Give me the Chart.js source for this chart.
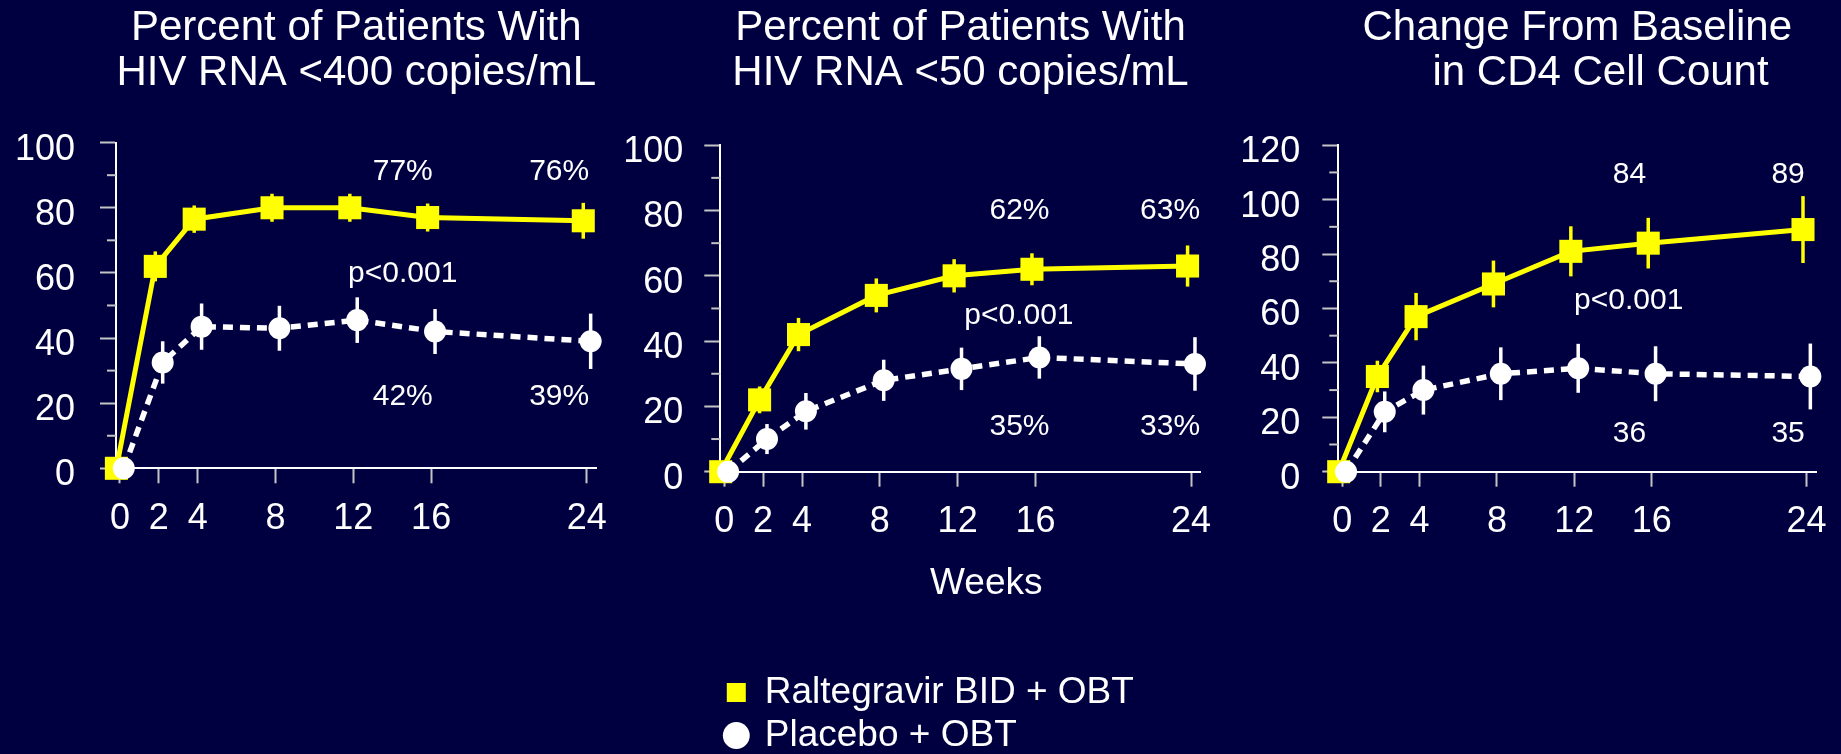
<!DOCTYPE html>
<html>
<head>
<meta charset="utf-8">
<script src="https://cdn.jsdelivr.net/npm/chart.js@4.4.1/dist/chart.umd.min.js"></script>
<style>
  html, body { margin: 0; padding: 0; width: 1841px; height: 754px; overflow: hidden; background: #000040; }
  canvas { position: absolute; top: 0; }
</style>
</head>
<body>
<canvas id="rna400" width="627" height="548" style="left:0px"></canvas>
<canvas id="rna50" width="625" height="764" style="left:606px"></canvas>
<canvas id="cd4" width="616" height="552" style="left:1225px"></canvas>
<script>
// Study visits (weeks) and their axis labels
const weeks = [0, 2, 4, 8, 12, 16, 24];
const weekLabels = ['0', '2', '4', '8', '12', '16', '24'];

// Series names
const ralLabel = 'Raltegravir BID + OBT';
const pboLabel = 'Placebo + OBT';

// % with HIV RNA <400 copies/mL (mean, half-width of interval)
const ral400 = [0, 62, 76.5, 80, 80, 77, 76];
const ral400Err = [0, 4.6, 4.2, 4.3, 4.3, 4.3, 5.5];
const pbo400 = [0, 32.5, 43.5, 43, 45.5, 42, 39];
const pbo400Err = [0, 6.5, 7.1, 6.9, 7, 6.9, 8.5];

// % with HIV RNA <50 copies/mL
const ral50 = [0, 22, 42, 54, 60, 62, 63];
const ral50Err = [0, 4.1, 5.1, 5.2, 5.1, 4.9, 6.3];
const pbo50 = [0, 10, 18.5, 28, 31.5, 35, 33];
const pbo50Err = [0, 4.6, 5.6, 6.3, 6.5, 6.5, 8.2];

// Change from baseline in CD4 cell count (cells/mm3)
const ralCD4 = [0, 35, 57, 69, 81, 84, 89];
const ralCD4Err = [0, 5.8, 8.7, 8.6, 9.2, 9.3, 12.3];
const pboCD4 = [0, 22, 30, 36, 38, 36, 35];
const pboCD4Err = [0, 7.5, 9, 9.7, 9, 10.1, 12.1];

const pText = 'p<0.001';

// ---- styling ----
const FONT = "'Liberation Sans', Arial, Helvetica, sans-serif";
const YELLOW = '#ffff00';
const WHITE = '#ffffff';
const TICK_COLOR = '#c4c4c4';
const DODGE = { ral: -0.18, pbo: 0.2 };   // small horizontal dodge (weeks) so the groups don't overlap

// Vertical error bars, drawn under each dataset's own markers
const errorBars = {
  id: 'errorBars',
  beforeDatasetDraw(chart, args, opts) {
    const ds = chart.data.datasets[args.index];
    if (!ds.errors) return;
    const ys = chart.scales.y;
    const ctx = chart.ctx;
    ctx.save();
    ctx.strokeStyle = ds.borderColor;
    ctx.lineWidth = opts.width;
    ds.errors.forEach((e, i) => {
      if (!e) return;
      const pt = args.meta.data[i];
      const v = ds.data[i].y;
      ctx.beginPath();
      ctx.moveTo(pt.x, ys.getPixelForValue(v - e));
      ctx.lineTo(pt.x, ys.getPixelForValue(v + e));
      ctx.stroke();
    });
    ctx.restore();
  }
};

// Short unlabeled ticks halfway between the labeled y ticks
const minorTicks = {
  id: 'minorTicks',
  afterDraw(chart, args, opts) {
    const s = chart.scales.y;
    const ctx = chart.ctx;
    const vals = s.ticks.map(t => t.value);
    ctx.save();
    ctx.strokeStyle = opts.color;
    ctx.lineWidth = opts.width;
    for (let i = 0; i < vals.length - 1; i++) {
      const py = s.getPixelForValue((vals[i] + vals[i + 1]) / 2);
      ctx.beginPath();
      ctx.moveTo(s.right - opts.length, py);
      ctx.lineTo(s.right, py);
      ctx.stroke();
    }
    ctx.restore();
  }
};

// Value and p-value callouts placed in data space
const callouts = {
  id: 'callouts',
  afterDatasetsDraw(chart, args, opts) {
    const ctx = chart.ctx;
    const xs = chart.scales.x, ys = chart.scales.y;
    ctx.save();
    ctx.fillStyle = opts.color;
    ctx.font = `${opts.size}px ${FONT}`;
    ctx.textAlign = 'center';
    ctx.textBaseline = 'middle';
    opts.items.forEach(n => {
      ctx.fillText(n.text, xs.getPixelForValue(n.x), ys.getPixelForValue(n.y));
    });
    ctx.restore();
  }
};

function series(label, values, errors, color, dodge, dashed, order) {
  const isRal = color === YELLOW;
  return {
    label,
    data: weeks.map((w, i) => ({ x: w + dodge, y: values[i] })),
    errors,
    borderColor: color,
    backgroundColor: color,
    borderWidth: isRal ? 5 : 5.5,
    borderDash: dashed ? [10, 7] : [],
    pointStyle: isRal ? 'rect' : 'circle',
    pointRadius: isRal ? 16.3 : 11,
    pointHoverRadius: isRal ? 16.3 : 11,
    pointBackgroundColor: color,
    pointBorderWidth: 0,
    tension: 0,
    clip: false,
    order
  };
}

function panel(id, cfg) {
  const tickFont = { family: FONT, size: 36 };
  new Chart(document.getElementById(id), {
    type: 'line',
    data: {
      datasets: [
        series(ralLabel, cfg.ral, cfg.ralErr, YELLOW, DODGE.ral, false, 1),
        series(pboLabel, cfg.pbo, cfg.pboErr, WHITE, DODGE.pbo, true, 0)
      ]
    },
    plugins: [errorBars, minorTicks, callouts],
    options: {
      responsive: false,
      animation: false,
      events: [],
      layout: { padding: { left: 0, top: 0, bottom: 0, right: cfg.padRight } },
      scales: {
        x: {
          type: 'linear',
          min: -0.2,
          max: 24.5,
          afterBuildTicks: s => { s.ticks = weeks.map(v => ({ value: v })); },
          afterFit: s => { s.height = cfg.xHeight; },
          ticks: {
            autoSkip: false,
            maxRotation: 0,
            color: WHITE,
            font: tickFont,
            padding: 14,
            callback: (v) => weekLabels[weeks.indexOf(v)]
          },
          grid: { drawOnChartArea: false, tickLength: 15, tickColor: TICK_COLOR, tickWidth: 2 },
          border: { display: true, color: WHITE, width: 2 },
          title: cfg.xTitle ? {
            display: true,
            text: cfg.xTitle,
            color: WHITE,
            font: { family: FONT, size: 37, lineHeight: 1.2 },
            padding: { top: 0, bottom: cfg.xTitlePad }
          } : { display: false }
        },
        y: {
          min: 0,
          max: cfg.yMax,
          afterFit: s => { s.width = cfg.yWidth; },
          ticks: {
            stepSize: 20,
            color: WHITE,
            font: tickFont,
            padding: cfg.yPad,
            labelOffset: 7
          },
          grid: { drawOnChartArea: false, tickLength: 16, tickColor: TICK_COLOR, tickWidth: 2 },
          border: { display: true, color: WHITE, width: 2 }
        }
      },
      plugins: {
        title: {
          display: true,
          text: cfg.title,
          color: WHITE,
          fullSize: false,
          font: { family: FONT, size: 42, weight: 'normal', lineHeight: 1.083 },
          padding: { top: 5.25, bottom: cfg.titleGap }
        },
        legend: cfg.legend ? {
          display: true,
          position: 'bottom',
          align: 'start',
          fullSize: false,
          labels: {
            usePointStyle: true,
            boxWidth: 20,
            boxHeight: 19,
            padding: 6,
            color: WHITE,
            font: { family: FONT, size: 37 },
            sort: (a, b) => a.datasetIndex - b.datasetIndex
          }
        } : { display: false },
        tooltip: { enabled: false },
        errorBars: { width: 3.5 },
        minorTicks: { color: TICK_COLOR, width: 2, length: 9 },
        callouts: { color: WHITE, size: 30, items: cfg.notes }
      }
    }
  });
}

panel('rna400', {
  title: ['Percent of Patients With', 'HIV RNA <400 copies/mL'],
  ral: ral400, ralErr: ral400Err, pbo: pbo400, pboErr: pbo400Err,
  yMax: 100, yWidth: 116, yPad: 25, xHeight: 79.7, padRight: 30.5, titleGap: 46.4,
  notes: [
    { text: ral400[5] + '%', x: 14.54, y: 91.1 },
    { text: ral400[6] + '%', x: 22.58, y: 91.1 },
    { text: pText, x: 14.54, y: 59.6 },
    { text: pbo400[5] + '%', x: 14.54, y: 22 },
    { text: pbo400[6] + '%', x: 22.58, y: 22 }
  ]
});

panel('rna50', {
  title: ['Percent of Patients With', 'HIV RNA <50 copies/mL'],
  ral: ral50, ralErr: ral50Err, pbo: pbo50, pboErr: pbo50Err,
  yMax: 100, yWidth: 114.3, yPad: 21, xHeight: 196.3, padRight: 30.2, titleGap: 49,
  xTitle: '     Weeks', xTitlePad: 62.5,
  legend: true,
  notes: [
    { text: ral50[5] + '%', x: 15.18, y: 80 },
    { text: ral50[6] + '%', x: 22.92, y: 80 },
    { text: pText, x: 15.15, y: 47.7 },
    { text: pbo50[5] + '%', x: 15.18, y: 13.8 },
    { text: pbo50[6] + '%', x: 22.92, y: 13.8 }
  ]
});

panel('cd4', {
  title: ['Change From Baseline', '    in CD4 Cell Count'],
  ral: ralCD4, ralErr: ralCD4Err, pbo: pboCD4, pboErr: pboCD4Err,
  yMax: 120, yWidth: 113.3, yPad: 22, xHeight: 80.3, padRight: 22.2, titleGap: 49,
  notes: [
    { text: String(ralCD4[5]), x: 14.85, y: 109.3 },
    { text: String(ralCD4[6]), x: 23.05, y: 109.3 },
    { text: pText, x: 14.81, y: 62.8 },
    { text: String(pboCD4[5]), x: 14.85, y: 13.8 },
    { text: String(pboCD4[6]), x: 23.05, y: 13.8 }
  ]
});
</script>
</body>
</html>
